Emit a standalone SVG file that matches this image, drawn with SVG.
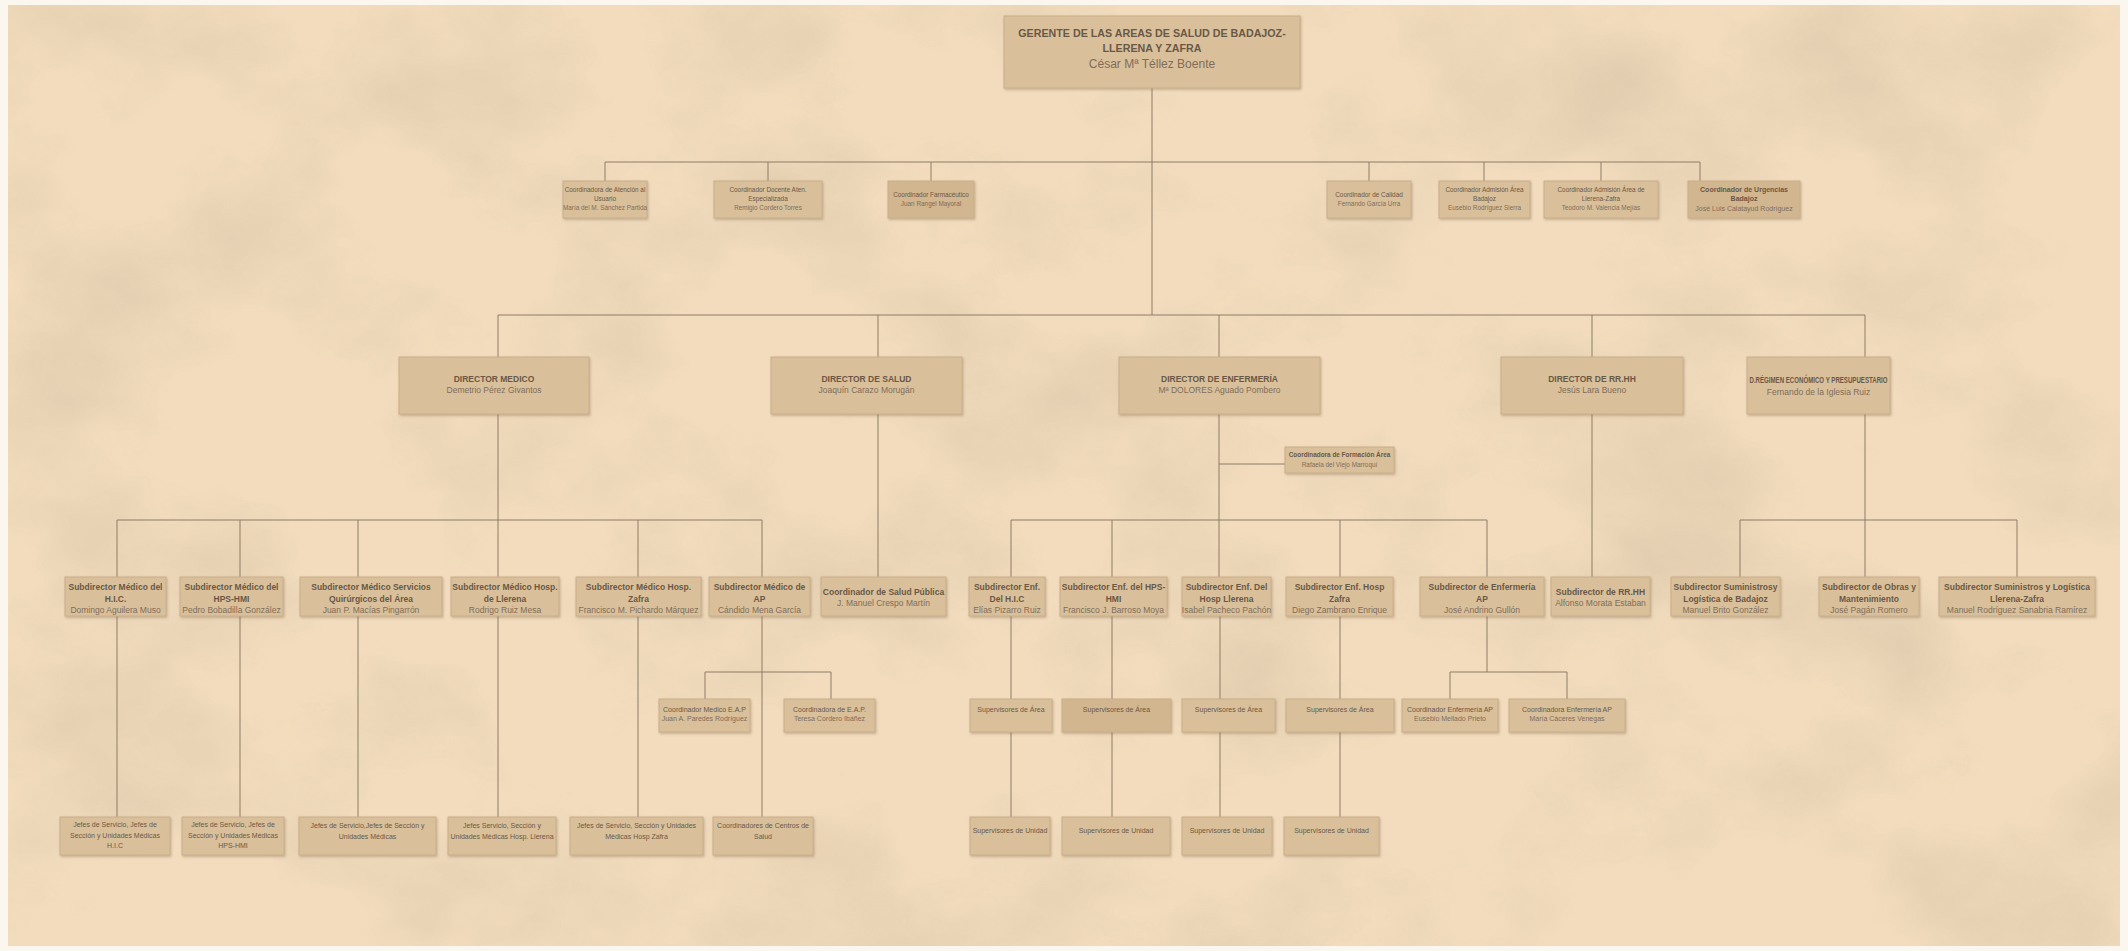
<svg xmlns="http://www.w3.org/2000/svg" width="2128" height="951" viewBox="0 0 2128 951">
<defs>
<filter id="paper" x="0" y="0" width="100%" height="100%">
<feTurbulence type="fractalNoise" baseFrequency="0.0045 0.006" numOctaves="5" seed="7"/>
<feColorMatrix type="matrix" values="0 0 0 0 0.50  0 0 0 0 0.40  0 0 0 0 0.28  1.0 0 0 0 -0.45"/>
</filter>
<filter id="sh" x="-10%" y="-10%" width="120%" height="130%">
<feDropShadow dx="1" dy="1.5" stdDeviation="1" flood-color="#7a6040" flood-opacity="0.35"/>
</filter>
<style>
.box{fill:#d9c09b;stroke:#c9ae88;stroke-width:1;filter:url(#sh)}
.dk{fill:#d2b690}
.t{font-family:'Liberation Sans',Arial,sans-serif;text-anchor:middle;fill:#6a5846}
.b{font-weight:bold}
.n{fill:#7f6d59}
.s6{font-size:6.4px}
.s7{font-size:7px}
.s8{font-size:8.5px}
.g1{font-size:10.7px}
.g2{font-size:12px}
#connectors path{stroke:#8d7c68;stroke-width:1;fill:none}
</style>
</defs>
<rect x="0" y="0" width="2128" height="951" fill="#fbf6ee"/>
<rect x="8" y="5" width="2112" height="941" fill="#f2dcbd"/>
<rect x="8" y="5" width="2112" height="941" filter="url(#paper)" opacity="0.7"/>

<g id="connectors">
<path d="M1152 88V315"/>
<path d="M605 162H1700M605 162V181M768 162V181M931 162V181M1369 162V181M1484 162V181M1601 162V181M1700 162V181"/>
<path d="M498 315H1865M498 315V357M878 315V357M1219 315V357M1592 315V357M1865 315V357"/>
<path d="M498 414V520M117 520H762M117 520V577M240 520V577M358 520V577M498 520V577M638 520V577M762 520V577"/>
<path d="M878 414V577"/>
<path d="M1219 414V520M1219 464H1285M1011 520H1487M1011 520V577M1112 520V577M1219 520V577M1340 520V577M1487 520V577"/>
<path d="M1592 414V577"/>
<path d="M1865 414V520M1740 520H2017M1740 520V577M1865 520V577M2017 520V577"/>
<path d="M117 616V817M240 616V817M358 616V817M498 616V817M638 616V817"/>
<path d="M762 616V817M705 672H831M705 672V699M831 672V699"/>
<path d="M1011 616V699M1011 732V817M1112 616V699M1112 732V817M1220 616V699M1220 732V817M1340 616V699M1340 732V817"/>
<path d="M1487 616V672M1450 672H1567M1450 672V699M1567 672V699"/>
</g>

<g id="gerente">
<rect class="box" x="1004" y="16" width="296" height="72"/>
<text class="t b g1" x="1152" y="37">GERENTE DE LAS AREAS DE SALUD DE BADAJOZ-</text>
<text class="t b g1" x="1152" y="52">LLERENA Y ZAFRA</text>
<text class="t n g2" x="1152" y="68">César Mª Téllez Boente</text>
</g>

<g id="coord-atencion-usuario">
<rect class="box" x="563" y="181" width="84" height="37"/>
<text class="t s6" x="605" y="192">Coordinadora de Atención al</text>
<text class="t s6" x="605" y="200.5">Usuario</text>
<text class="t n s6" x="605" y="209.5">María del M. Sánchez Partida</text>
</g>
<g id="coord-docente">
<rect class="box" x="714" y="181" width="108" height="37"/>
<text class="t s6" x="768" y="192">Coordinador Docente Aten.</text>
<text class="t s6" x="768" y="200.5">Especializada</text>
<text class="t n s6" x="768" y="209.5">Remigio Cordero Torres</text>
</g>
<g id="coord-farmaceutico">
<rect class="box dk" x="888" y="181" width="86" height="37"/>
<text class="t s6" x="931" y="197">Coordinador Farmacéutico</text>
<text class="t n s6" x="931" y="205.5">Juan Rangel Mayoral</text>
</g>
<g id="coord-calidad">
<rect class="box" x="1327" y="181" width="84" height="37"/>
<text class="t s6" x="1369" y="197">Coordinador de Calidad</text>
<text class="t n s6" x="1369" y="205.5">Fernando García Urra</text>
</g>
<g id="coord-admision-badajoz">
<rect class="box" x="1439" y="181" width="91" height="37"/>
<text class="t s6" x="1484.5" y="192">Coordinador Admisión Área</text>
<text class="t s6" x="1484.5" y="200.5">Badajoz</text>
<text class="t n s6" x="1484.5" y="209.5">Eusebio Rodríguez Sierra</text>
</g>
<g id="coord-admision-llerena">
<rect class="box" x="1544" y="181" width="114" height="37"/>
<text class="t s6" x="1601" y="192">Coordinador Admisión Área de</text>
<text class="t s6" x="1601" y="200.5">Llerena-Zafra</text>
<text class="t n s6" x="1601" y="209.5">Teodoro M. Valencia Mejías</text>
</g>
<g id="coord-urgencias">
<rect class="box dk" x="1688" y="181" width="112" height="37"/>
<text class="t b s7" x="1744" y="191.5">Coordinador de Urgencias</text>
<text class="t b s7" x="1744" y="200.5">Badajoz</text>
<text class="t n s7" x="1744" y="210.5">José Luis Calatayud Rodríguez</text>
</g>

<g id="dir-medico">
<rect class="box" x="399" y="357" width="190" height="57"/>
<text class="t b s8" x="494" y="382">DIRECTOR MEDICO</text>
<text class="t n s8" x="494" y="393">Demetrio Pérez Givantos</text>
</g>
<g id="dir-salud">
<rect class="box" x="771" y="357" width="191" height="57"/>
<text class="t b s8" x="866.5" y="382">DIRECTOR DE SALUD</text>
<text class="t n s8" x="866.5" y="393">Joaquín Carazo Morugán</text>
</g>
<g id="dir-enfermeria">
<rect class="box" x="1119" y="357" width="201" height="57"/>
<text class="t b s8" x="1219.5" y="382">DIRECTOR DE ENFERMERÍA</text>
<text class="t n s8" x="1219.5" y="393">Mª DOLORES Aguado Pombero</text>
</g>
<g id="dir-rrhh">
<rect class="box" x="1501" y="357" width="182" height="57"/>
<text class="t b s8" x="1592" y="382">DIRECTOR DE RR.HH</text>
<text class="t n s8" x="1592" y="393">Jesús Lara Bueno</text>
</g>
<g id="dir-regimen">
<rect class="box" x="1747" y="357" width="143" height="57"/>
<text class="t b s8" x="1818.5" y="383" textLength="138" lengthAdjust="spacingAndGlyphs">D.RÉGIMEN ECONÓMICO Y PRESUPUESTARIO</text>
<text class="t n s8" x="1818.5" y="395">Fernando de la Iglesia Ruiz</text>
</g>

<g id="coord-formacion">
<rect class="box" x="1285" y="447" width="109" height="26"/>
<text class="t b s6" x="1339.5" y="457">Coordinadora de Formación Área</text>
<text class="t n s6" x="1339.5" y="466.5">Rafaela del Viejo Marroquí</text>
</g>

<g id="sub-medico-hic">
<rect class="box" x="65" y="577" width="101" height="39"/>
<text class="t b s8" x="115.5" y="590">Subdirector Médico del</text>
<text class="t b s8" x="115.5" y="601.5">H.I.C.</text>
<text class="t n s8" x="115.5" y="612.5">Domingo Aguilera Muso</text>
</g>
<g id="sub-medico-hps">
<rect class="box" x="180" y="577" width="103" height="39"/>
<text class="t b s8" x="231.5" y="590">Subdirector Médico del</text>
<text class="t b s8" x="231.5" y="601.5">HPS-HMI</text>
<text class="t n s8" x="231.5" y="612.5">Pedro Bobadilla González</text>
</g>
<g id="sub-medico-quirurgicos">
<rect class="box" x="300" y="577" width="142" height="39"/>
<text class="t b s8" x="371" y="590">Subdirector Médico Servicios</text>
<text class="t b s8" x="371" y="601.5">Quirúrgicos del Área</text>
<text class="t n s8" x="371" y="612.5">Juan P. Macías Pingarrón</text>
</g>
<g id="sub-medico-llerena">
<rect class="box" x="451" y="577" width="108" height="39"/>
<text class="t b s8" x="505" y="590">Subdirector Médico Hosp.</text>
<text class="t b s8" x="505" y="601.5">de Llerena</text>
<text class="t n s8" x="505" y="612.5">Rodrigo Ruiz Mesa</text>
</g>
<g id="sub-medico-zafra">
<rect class="box" x="576" y="577" width="125" height="39"/>
<text class="t b s8" x="638.5" y="590">Subdirector Médico Hosp.</text>
<text class="t b s8" x="638.5" y="601.5">Zafra</text>
<text class="t n s8" x="638.5" y="612.5">Francisco M. Pichardo Márquez</text>
</g>
<g id="sub-medico-ap">
<rect class="box" x="709" y="577" width="101" height="39"/>
<text class="t b s8" x="759.5" y="590">Subdirector Médico de</text>
<text class="t b s8" x="759.5" y="601.5">AP</text>
<text class="t n s8" x="759.5" y="612.5">Cándido Mena García</text>
</g>
<g id="coord-salud-publica">
<rect class="box" x="821" y="577" width="125" height="39"/>
<text class="t b s8" x="883.5" y="595">Coordinador de Salud Pública</text>
<text class="t n s8" x="883.5" y="606">J. Manuel Crespo Martín</text>
</g>
<g id="sub-enf-hic">
<rect class="box" x="969" y="577" width="76" height="39"/>
<text class="t b s8" x="1007" y="590">Subdirector Enf.</text>
<text class="t b s8" x="1007" y="601.5">Del H.I.C</text>
<text class="t n s8" x="1007" y="612.5">Elías Pizarro Ruiz</text>
</g>
<g id="sub-enf-hps">
<rect class="box" x="1060" y="577" width="107" height="39"/>
<text class="t b s8" x="1113.5" y="590">Subdirector Enf. del HPS-</text>
<text class="t b s8" x="1113.5" y="601.5">HMI</text>
<text class="t n s8" x="1113.5" y="612.5">Francisco J. Barroso Moya</text>
</g>
<g id="sub-enf-llerena">
<rect class="box" x="1182" y="577" width="89" height="39"/>
<text class="t b s8" x="1226.5" y="590">Subdirector Enf. Del</text>
<text class="t b s8" x="1226.5" y="601.5">Hosp Llerena</text>
<text class="t n s8" x="1226.5" y="612.5">Isabel Pacheco Pachón</text>
</g>
<g id="sub-enf-zafra">
<rect class="box" x="1286" y="577" width="107" height="39"/>
<text class="t b s8" x="1339.5" y="590">Subdirector Enf. Hosp</text>
<text class="t b s8" x="1339.5" y="601.5">Zafra</text>
<text class="t n s8" x="1339.5" y="612.5">Diego Zambrano Enrique</text>
</g>
<g id="sub-enf-ap">
<rect class="box" x="1420" y="577" width="124" height="39"/>
<text class="t b s8" x="1482" y="590">Subdirector de Enfermería</text>
<text class="t b s8" x="1482" y="601.5">AP</text>
<text class="t n s8" x="1482" y="612.5">José Andrino Gullón</text>
</g>
<g id="sub-rrhh">
<rect class="box" x="1551" y="577" width="99" height="39"/>
<text class="t b s8" x="1600.5" y="595">Subdirector de RR.HH</text>
<text class="t n s8" x="1600.5" y="606">Alfonso Morata Estaban</text>
</g>
<g id="sub-suministros-badajoz">
<rect class="box" x="1671" y="577" width="109" height="39"/>
<text class="t b s8" x="1725.5" y="590">Subdirector Suministrosy</text>
<text class="t b s8" x="1725.5" y="601.5">Logística de Badajoz</text>
<text class="t n s8" x="1725.5" y="612.5">Manuel Brito González</text>
</g>
<g id="sub-obras">
<rect class="box" x="1819" y="577" width="100" height="39"/>
<text class="t b s8" x="1869" y="590">Subdirector de Obras y</text>
<text class="t b s8" x="1869" y="601.5">Mantenimiento</text>
<text class="t n s8" x="1869" y="612.5">José Pagán Romero</text>
</g>
<g id="sub-suministros-llerena">
<rect class="box" x="1939" y="577" width="156" height="39"/>
<text class="t b s8" x="2017" y="590">Subdirector Suministros y Logística</text>
<text class="t b s8" x="2017" y="601.5">Llerena-Zafra</text>
<text class="t n s8" x="2017" y="612.5">Manuel Rodríguez Sanabria Ramírez</text>
</g>

<g id="coord-medico-eap">
<rect class="box" x="659" y="699" width="91" height="33"/>
<text class="t s7" x="704.5" y="712.4">Coordinador Medico E.A.P</text>
<text class="t n s7" x="704.5" y="721.4">Juan A. Paredes Rodríguez</text>
</g>
<g id="coord-eap">
<rect class="box" x="784" y="699" width="91" height="33"/>
<text class="t s7" x="829.5" y="712.4">Coordinadora de E.A.P.</text>
<text class="t n s7" x="829.5" y="721.4">Teresa Cordero Ibáñez</text>
</g>
<g id="sup-area-hic">
<rect class="box" x="970" y="699" width="82" height="33"/>
<text class="t s7" x="1011" y="712.4">Supervisores de Área</text>
</g>
<g id="sup-area-hps">
<rect class="box dk" x="1062" y="699" width="109" height="33"/>
<text class="t s7" x="1116.5" y="712.4">Supervisores de Área</text>
</g>
<g id="sup-area-llerena">
<rect class="box" x="1182" y="699" width="93" height="33"/>
<text class="t s7" x="1228.5" y="712.4">Supervisores de Área</text>
</g>
<g id="sup-area-zafra">
<rect class="box" x="1286" y="699" width="108" height="33"/>
<text class="t s7" x="1340" y="712.4">Supervisores de Área</text>
</g>
<g id="coord-enf-ap-1">
<rect class="box" x="1402" y="699" width="96" height="33"/>
<text class="t s7" x="1450" y="712.4">Coordinador Enfermería AP</text>
<text class="t n s7" x="1450" y="721.4">Eusebio Mellado Prieto</text>
</g>
<g id="coord-enf-ap-2">
<rect class="box" x="1509" y="699" width="116" height="33"/>
<text class="t s7" x="1567" y="712.4">Coordinadora Enfermería AP</text>
<text class="t n s7" x="1567" y="721.4">María Cáceres Venegas</text>
</g>

<g id="jefes-hic">
<rect class="box" x="60" y="817" width="110" height="38"/>
<text class="t s7" x="115" y="826.5">Jefes de Servicio, Jefes de</text>
<text class="t s7" x="115" y="837.5">Sección y Unidades Médicas</text>
<text class="t s7" x="115" y="847.5">H.I.C</text>
</g>
<g id="jefes-hps">
<rect class="box" x="182" y="817" width="102" height="38"/>
<text class="t s7" x="233" y="826.5">Jefes de Servicio, Jefes de</text>
<text class="t s7" x="233" y="837.5">Sección y Unidades Médicas</text>
<text class="t s7" x="233" y="847.5">HPS-HMI</text>
</g>
<g id="jefes-area">
<rect class="box" x="299" y="817" width="137" height="38"/>
<text class="t s7" x="367.5" y="828">Jefes de Servicio,Jefes de Sección y</text>
<text class="t s7" x="367.5" y="839">Unidades Médicas</text>
</g>
<g id="jefes-llerena">
<rect class="box" x="448" y="817" width="108" height="38"/>
<text class="t s7" x="502" y="828">Jefes Servicio, Sección y</text>
<text class="t s7" x="502" y="839">Unidades Médicas Hosp. Llerena</text>
</g>
<g id="jefes-zafra">
<rect class="box" x="570" y="817" width="133" height="38"/>
<text class="t s7" x="636.5" y="828">Jefes de Servicio, Sección y Unidades</text>
<text class="t s7" x="636.5" y="839">Médicas Hosp Zafra</text>
</g>
<g id="coord-centros-salud">
<rect class="box" x="713" y="817" width="100" height="38"/>
<text class="t s7" x="763" y="828">Coordinadores de Centros de</text>
<text class="t s7" x="763" y="839">Salud</text>
</g>
<g id="sup-unidad-hic">
<rect class="box" x="970" y="817" width="80" height="38"/>
<text class="t s7" x="1010" y="833">Supervisores de Unidad</text>
</g>
<g id="sup-unidad-hps">
<rect class="box" x="1062" y="817" width="108" height="38"/>
<text class="t s7" x="1116" y="833">Supervisores de Unidad</text>
</g>
<g id="sup-unidad-llerena">
<rect class="box" x="1182" y="817" width="90" height="38"/>
<text class="t s7" x="1227" y="833">Supervisores de Unidad</text>
</g>
<g id="sup-unidad-zafra">
<rect class="box" x="1284" y="817" width="95" height="38"/>
<text class="t s7" x="1331.5" y="833">Supervisores de Unidad</text>
</g>
</svg>
